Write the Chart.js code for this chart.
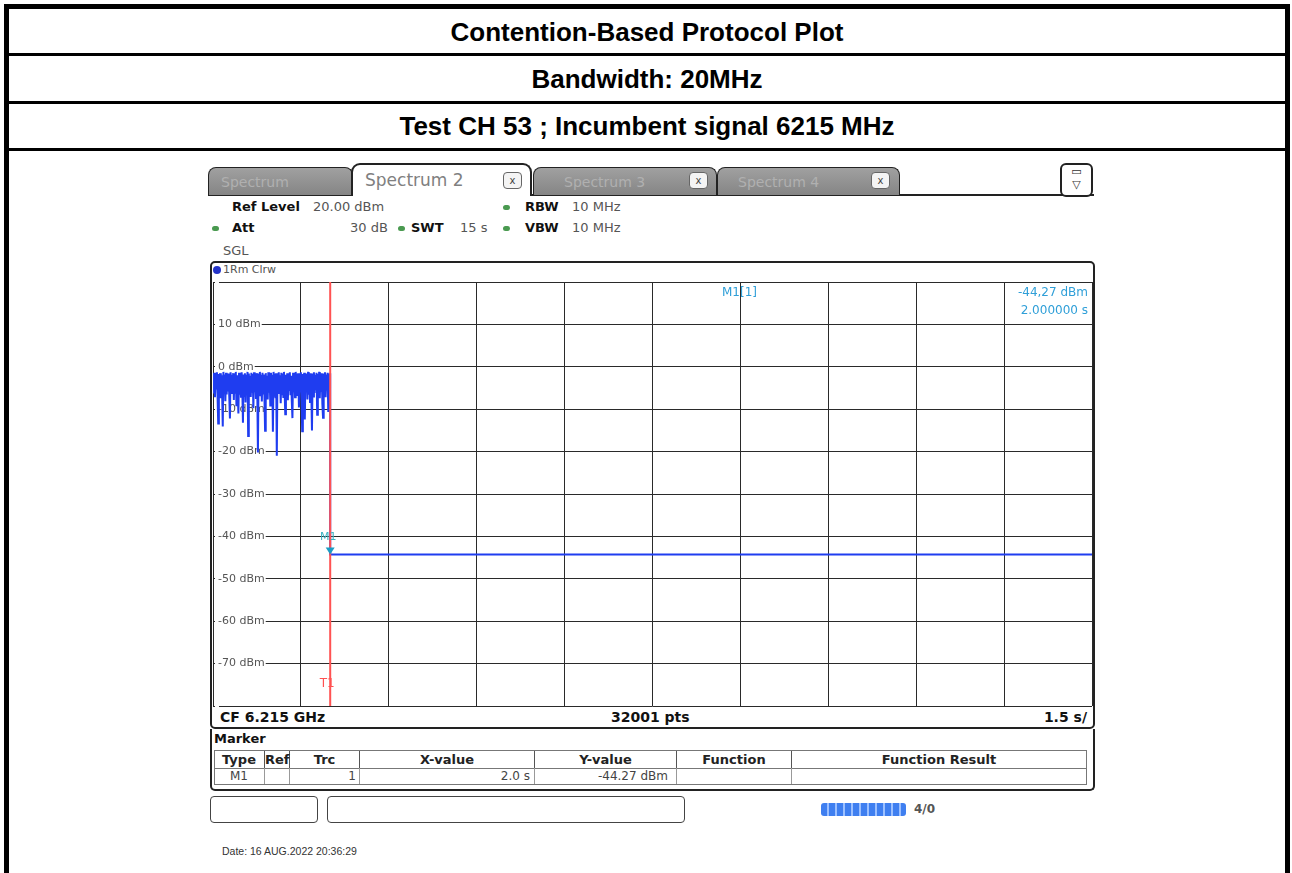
<!DOCTYPE html>
<html>
<head>
<meta charset="utf-8">
<script src="https://cdn.jsdelivr.net/npm/chart.js@4.4.1/dist/chart.umd.min.js"></script>
<style>
  body { margin: 0; width: 1292px; height: 873px; position: relative; overflow: hidden; background: #fff; }
  .abs { position: absolute; }
  .hdr { position: absolute; left: 9px; width: 1276px; text-align: center; font: bold 26px "Liberation Sans", Arial, sans-serif; color: #000; line-height: 1; }
  .sep { position: absolute; left: 4px; width: 1286px; height: 3px; background: #000; }
  .inst { position: absolute; font: 13px "DejaVu Sans", Verdana, sans-serif; color: #555; white-space: nowrap; line-height: 1; }
  .b { font-weight: bold; color: #111; }
  .dot { position: absolute; width: 7px; height: 5px; border-radius: 3px; background: #4a9a50; }
  .tab { position: absolute; top: 167px; height: 27px; border: 1px solid #222; border-bottom: none; border-radius: 8px 8px 0 0;
         background: linear-gradient(#a0a0a0, #858585); }
  .xbtn { position: absolute; width: 17px; height: 15px; border: 1px solid #666; border-radius: 4px; background: #f4f4f4;
          font: 10px "DejaVu Sans", sans-serif; color: #444; text-align: center; line-height: 15px; }
  .mk { position: absolute; font: 12px "DejaVu Sans", Verdana, sans-serif; color: #2f9fd8; white-space: nowrap; line-height: 1; }
  .cell { position: absolute; top: 751px; height: 17px; border-right: 1px solid #555; font: bold 13px "DejaVu Sans", sans-serif;
          color: #222; text-align: center; line-height: 17px; }
  .val { position: absolute; top: 769px; height: 15px; font: 12px "DejaVu Sans", sans-serif; color: #444; line-height: 15px; white-space: nowrap; }
</style>
</head>
<body>
<!-- report table -->
<div class="abs" style="left:4px;top:4px;width:1286px;height:900px;border:5px solid #000;box-sizing:border-box;"></div>
<div class="sep" style="top:53px"></div>
<div class="sep" style="top:101px"></div>
<div class="sep" style="top:148px"></div>
<div class="hdr" style="top:19px">Contention-Based Protocol Plot</div>
<div class="hdr" style="top:66px">Bandwidth: 20MHz</div>
<div class="hdr" style="top:113px">Test CH 53 ; Incumbent signal 6215 MHz</div>

<!-- analyzer tabs -->
<div class="abs" style="left:208px;top:194px;width:886px;height:2px;background:#222"></div>
<div class="tab" style="left:208px;width:143px"><div class="inst" style="left:12px;top:7px;color:#b0b0b0;font-size:14px">Spectrum</div></div>
<div class="tab" style="left:533px;width:182px"><div class="inst" style="left:30px;top:7px;color:#b0b0b0;font-size:14px">Spectrum 3</div><div class="xbtn" style="left:155px;top:4px">x</div></div>
<div class="tab" style="left:717px;width:181px"><div class="inst" style="left:20px;top:7px;color:#b0b0b0;font-size:14px">Spectrum 4</div><div class="xbtn" style="left:153px;top:4px">x</div></div>
<div class="abs" style="left:351px;top:163px;width:181px;height:33px;border:2px solid #222;border-bottom:none;border-radius:9px 9px 0 0;background:#fff;box-sizing:border-box"></div>
<div class="inst" style="left:365px;top:172px;font-size:17px;color:#808080">Spectrum 2</div>
<div class="xbtn" style="left:503px;top:172px">x</div>
<div class="abs" style="left:1060px;top:163px;width:33px;height:34px;border:2px solid #222;border-radius:6px;background:#fff;box-sizing:border-box;font:11px 'DejaVu Sans';text-align:center;color:#333;line-height:13px">▭<br>▽</div>

<!-- settings -->
<div class="inst b" style="left:232px;top:200px">Ref Level</div>
<div class="inst" style="left:313px;top:200px">20.00 dBm</div>
<div class="dot" style="left:503px;top:205px"></div>
<div class="inst b" style="left:525px;top:200px">RBW</div>
<div class="inst" style="left:572px;top:200px">10 MHz</div>
<div class="dot" style="left:212px;top:226px"></div>
<div class="inst b" style="left:232px;top:221px">Att</div>
<div class="inst" style="left:350px;top:221px">30 dB</div>
<div class="dot" style="left:398px;top:226px"></div>
<div class="inst b" style="left:411px;top:221px">SWT</div>
<div class="inst" style="left:460px;top:221px">15 s</div>
<div class="dot" style="left:503px;top:226px"></div>
<div class="inst b" style="left:525px;top:221px">VBW</div>
<div class="inst" style="left:572px;top:221px">10 MHz</div>
<div class="inst" style="left:223px;top:244px">SGL</div>

<!-- diagram frame -->
<div class="abs" style="left:210px;top:261px;width:885px;height:468px;border:2px solid #222;border-radius:5px;box-sizing:border-box"></div>
<div class="abs" style="left:213px;top:266px;width:8px;height:8px;border-radius:4px;background:#2433c8"></div>
<div class="inst" style="left:223px;top:264px;font-size:11px;color:#555">1Rm Clrw</div>
<div class="inst b" style="left:220px;top:710px;font-size:14px">CF 6.215 GHz</div>
<div class="inst b" style="left:611px;top:710px;font-size:14px">32001 pts</div>
<div class="inst b" style="right:205px;top:710px;font-size:14px">1.5 s/</div>

<canvas id="trace" class="abs" style="left:203px;top:262px" width="892" height="466"></canvas>

<!-- marker readout -->
<div class="mk" style="left:722px;top:286px">M1[1]</div>
<div class="mk" style="right:204px;top:286px">-44,27 dBm</div>
<div class="mk" style="right:204px;top:304px">2.000000 s</div>

<!-- marker table -->
<div class="abs" style="left:210px;top:729px;width:885px;height:62px;border:2px solid #222;border-top:none;border-radius:0 0 5px 5px;box-sizing:border-box"></div>
<div class="inst b" style="left:214px;top:732px">Marker</div>
<div class="abs" style="left:214px;top:750px;width:873px;height:35px;border:1px solid #777;box-sizing:border-box"></div>
<div class="abs" style="left:214px;top:768px;width:873px;height:1px;background:#777"></div>
<div class="cell" style="left:214px;width:50px">Type</div>
<div class="cell" style="left:265px;width:24px">Ref</div>
<div class="cell" style="left:290px;width:69px">Trc</div>
<div class="cell" style="left:360px;width:174px">X-value</div>
<div class="cell" style="left:535px;width:141px">Y-value</div>
<div class="cell" style="left:677px;width:114px">Function</div>
<div class="cell" style="left:792px;width:294px;border-right:none">Function Result</div>
<div class="abs" style="left:264px;top:768px;width:1px;height:16px;background:#999"></div>
<div class="abs" style="left:289px;top:768px;width:1px;height:16px;background:#999"></div>
<div class="abs" style="left:359px;top:768px;width:1px;height:16px;background:#999"></div>
<div class="abs" style="left:534px;top:768px;width:1px;height:16px;background:#999"></div>
<div class="abs" style="left:676px;top:768px;width:1px;height:16px;background:#999"></div>
<div class="abs" style="left:791px;top:768px;width:1px;height:16px;background:#999"></div>
<div class="val" style="left:214px;width:50px;text-align:center">M1</div>
<div class="val" style="left:290px;width:66px;text-align:right">1</div>
<div class="val" style="left:360px;width:170px;text-align:right">2.0 s</div>
<div class="val" style="left:535px;width:133px;text-align:right">-44.27 dBm</div>

<!-- status bar -->
<div class="abs" style="left:210px;top:796px;width:108px;height:27px;border:1px solid #444;border-radius:4px;box-sizing:border-box"></div>
<div class="abs" style="left:327px;top:796px;width:358px;height:27px;border:1px solid #444;border-radius:4px;box-sizing:border-box"></div>
<div class="abs" style="left:821px;top:803px;width:85px;height:13px;border-radius:3px;background:repeating-linear-gradient(90deg,#3f7ff0 0 6px,#9cc0ff 6px 8px)"></div>
<div class="inst b" style="left:914px;top:803px;font-size:12px;color:#555">4/0</div>
<div class="abs" style="left:222px;top:845px;font:10.5px 'Liberation Sans',Arial,sans-serif;color:#333;white-space:nowrap">Date: 16 AUG.2022 20:36:29</div>

<script>
// Sweep settings
var sweepTime = 15;          // s
var levelMin = -80;
var levelMax = 20;           // ref level, dBm
var levelTicks = [10, 0, -10, -20, -30, -40, -50, -60, -70];

// Burst before the trigger, 0 .. 2.0 s
var burstEnd = 2.0;
var burstLevels = [
  -1.6, -6.3, -1.4, -7.2, -1.9, -5.1, -1.3, -6.8, -13.4, -1.7,
  -5.6, -1.5, -7.4, -2.0, -6.0, -14.1, -1.2, -5.3, -1.8, -8.1,
  -1.4, -6.5, -2.1, -5.8, -1.6, -7.0, -12.2, -1.3, -6.2, -1.9,
  -5.4, -1.5, -7.8, -1.7, -6.1, -1.2, -9.3, -2.0, -5.7, -11.0,
  -1.4, -6.6, -1.6, -7.3, -1.3, -5.2, -13.2, -1.8, -6.9, -1.5,
  -8.4, -1.9, -5.5, -1.2, -16.3, -1.6, -6.4, -2.1, -7.1, -1.4,
  -5.9, -1.7, -9.8, -1.3, -6.0, -2.0, -7.6, -1.5, -5.3, -20.2,
  -1.6, -6.7, -1.2, -5.8, -1.9, -8.2, -1.4, -6.3, -1.8, -7.0,
  -15.1, -1.5, -5.6, -2.1, -7.7, -1.3, -6.1, -1.7, -9.1, -1.4,
  -5.4, -1.9, -15.3, -1.2, -6.8, -1.6, -7.4, -1.5, -21.0, -1.8,
  -6.2, -1.3, -5.7, -2.0, -8.6, -1.4, -6.5, -1.6, -7.1, -1.2,
  -5.9, -11.2, -1.9, -6.4, -1.5, -7.9, -1.7, -5.5, -1.3, -6.7,
  -2.1, -8.0, -12.1, -1.4, -6.0, -1.8, -7.2, -1.2, -5.6, -1.6,
  -6.9, -1.5, -9.6, -1.9, -5.8, -1.3, -7.5, -15.2, -1.7, -6.3,
  -1.4, -12.4, -2.0, -5.4, -1.6, -7.7, -1.2, -6.6, -1.8, -8.3,
  -1.5, -5.9, -15.0, -1.6, -7.0, -1.3, -6.2, -1.9, -5.5, -1.4,
  -11.3, -1.7, -6.8, -1.2, -7.4, -2.0, -5.7, -1.5, -8.8, -12.0,
  -1.6, -6.1, -1.3, -7.2, -1.8, -5.6, -1.4, -10.4, -1.6, -6.5,
  -1.5
];

// After the trigger the channel is quiet
var quietTimes = [2.0, 15];
var quietLevels = [-44.27, -44.27];

// Trigger line and marker
var triggerTime = 2.0;
var markerTime = 2.0;
var markerLevel = -44.27;

var tracePoints = burstLevels.map((v, i) => ({ x: i * burstEnd / (burstLevels.length - 1), y: v }));
quietTimes.forEach((t, i) => tracePoints.push({ x: t, y: quietLevels[i] }));

var markerPlugin = {
  id: 'markerPlugin',
  afterDatasetsDraw(chart) {
    const { ctx, chartArea, scales: { x, y } } = chart;
    const tx = x.getPixelForValue(triggerTime);
    ctx.save();
    ctx.strokeStyle = '#ff5252';
    ctx.lineWidth = 2;
    ctx.beginPath();
    ctx.moveTo(tx, chartArea.top);
    ctx.lineTo(tx, chartArea.bottom);
    ctx.stroke();
    ctx.fillStyle = '#ff5252';
    ctx.font = '12px "DejaVu Sans"';
    ctx.textAlign = 'center';
    ctx.textBaseline = 'middle';
    ctx.fillText('T1', tx - 3, chartArea.bottom - 22);

    const mx = x.getPixelForValue(markerTime);
    const my = y.getPixelForValue(markerLevel);
    ctx.fillStyle = '#1c9cc4';
    ctx.beginPath();
    ctx.moveTo(mx, my);
    ctx.lineTo(mx - 4.5, my - 7);
    ctx.lineTo(mx + 4.5, my - 7);
    ctx.closePath();
    ctx.fill();
    ctx.fillStyle = '#3ab4c4';
    ctx.font = '11px "DejaVu Sans"';
    ctx.fillText('M1', mx - 2, my - 17);
    ctx.restore();
  }
};

new Chart(document.getElementById('trace').getContext('2d'), {
  type: 'line',
  data: {
    datasets: [{
      data: tracePoints,
      borderColor: '#1f3df0',
      borderWidth: 2,
      pointRadius: 0,
      tension: 0,
      fill: false
    }]
  },
  options: {
    responsive: false,
    animation: false,
    events: [],
    layout: { padding: { left: 0, right: 3, top: 20, bottom: 22 } },
    plugins: { legend: { display: false }, tooltip: { enabled: false } },
    scales: {
      x: {
        type: 'linear',
        min: 0,
        max: sweepTime,
        ticks: { display: false, stepSize: sweepTime / 10 },
        grid: { color: '#2a2a2a', lineWidth: 1, drawTicks: false },
        border: { display: false }
      },
      y: {
        min: levelMin,
        max: levelMax,
        ticks: {
          stepSize: 10,
          mirror: true,
          padding: 5,
          color: '#555',
          font: { family: 'DejaVu Sans', size: 11 },
          showLabelBackdrop: true,
          backdropColor: '#fff',
          backdropPadding: { left: 3, right: 1, top: 0, bottom: 0 },
          callback: (v) => levelTicks.includes(v) ? v + ' dBm' : ''
        },
        grid: { color: '#2a2a2a', lineWidth: 1, drawTicks: false },
        border: { display: false }
      }
    }
  },
  plugins: [markerPlugin]
});
</script>
</body>
</html>
